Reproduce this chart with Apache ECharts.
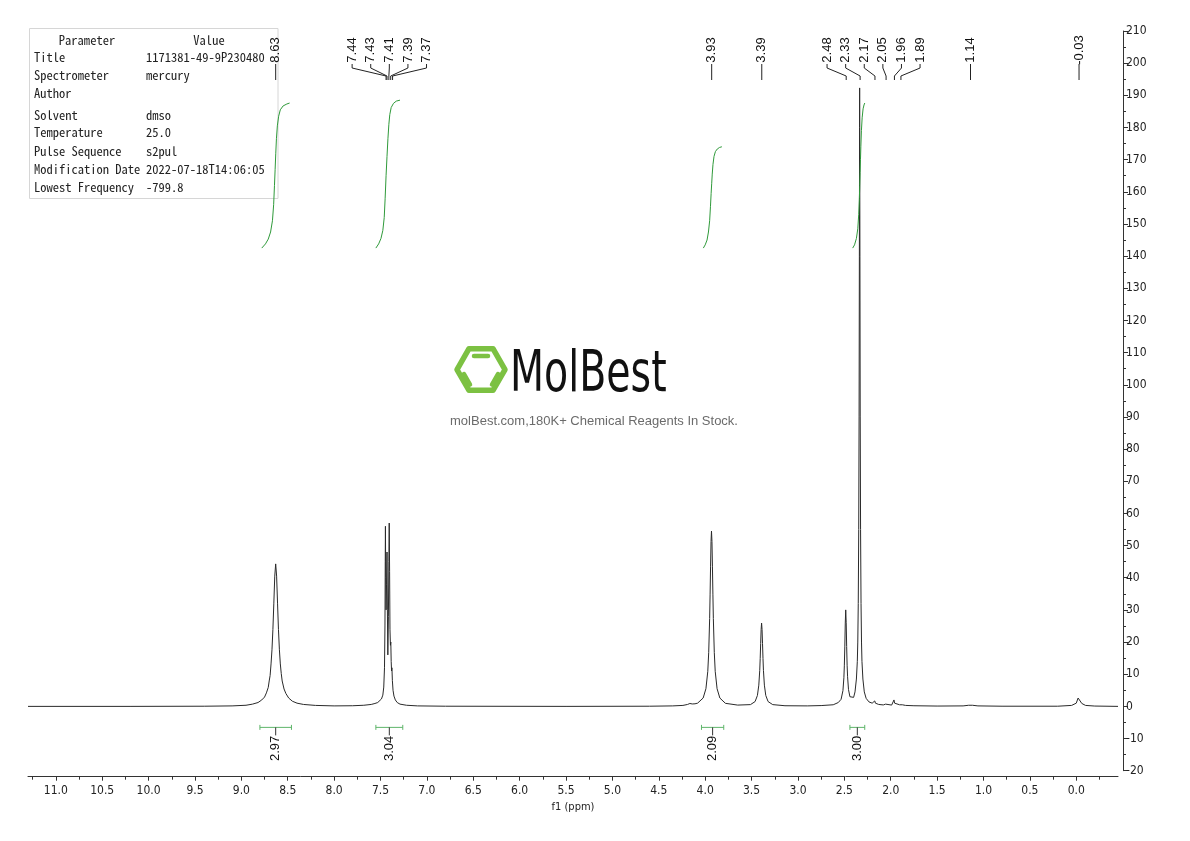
<!DOCTYPE html>
<html><head><meta charset="utf-8">
<script src="https://cdn.jsdelivr.net/npm/echarts@6/dist/echarts.min.js"></script>
<style>html,body{margin:0;padding:0;background:#fff}#c{width:1190px;height:841px}</style>
</head><body><div id="c"></div>
<script>
// ---------- data ----------
const xMajorTicks = [11.0,10.5,10.0,9.5,9.0,8.5,8.0,7.5,7.0,6.5,6.0,5.5,5.0,4.5,4.0,3.5,3.0,2.5,2.0,1.5,1.0,0.5,0.0];
const xMinorTicks = [11.25,10.75,10.25,9.75,9.25,8.75,8.25,7.75,7.25,6.75,6.25,5.75,5.25,4.75,4.25,3.75,3.25,2.75,2.25,1.75,1.25,0.75,0.25,-0.25];

const spectrum = [
[11.30,0.0],[10.2,0.0],[9.40,0.05],[9.10,0.15],[8.95,0.35],[8.88,0.7],[8.82,1.2],[8.78,2.0],[8.75,2.9],[8.73,4.2],[8.71,5.9],[8.70,7.9],[8.69,9.6],[8.68,13.2],[8.67,17.6],[8.66,23.9],[8.65,32.1],[8.64,40.5],[8.63,44.3],[8.62,40.5],[8.61,32.1],[8.60,23.9],[8.59,17.6],[8.58,13.2],[8.57,10.2],[8.56,7.9],[8.54,5.4],[8.52,4.0],[8.49,2.6],[8.45,1.6],[8.40,1.0],[8.33,0.6],[8.20,0.3],[8.00,0.15],
[7.80,0.2],[7.68,0.35],[7.60,0.6],[7.56,0.9],[7.53,1.2],[7.51,1.6],[7.49,2.3],[7.475,3.5],[7.465,6],[7.457,12],[7.452,25],[7.449,45],[7.447,56],[7.444,40],[7.440,30],[7.435,38],[7.430,48],[7.426,30],[7.421,16],[7.415,28],[7.410,45],[7.406,57],[7.402,42],[7.398,24],[7.393,19],[7.389,20],[7.385,14],[7.381,11],[7.377,12],[7.372,8],[7.365,5],[7.355,3.2],[7.34,2.0],[7.32,1.2],[7.29,0.7],[7.22,0.35],[7.10,0.15],[6.80,0.05],[5.50,0.0],
[4.60,0.05],[4.35,0.15],[4.24,0.3],[4.19,0.6],[4.165,0.9],[4.14,0.75],[4.11,0.8],[4.082,1.0],[4.022,2.6],[3.992,5.5],[3.972,10.9],[3.962,16.8],[3.952,27.3],[3.947,34.9],[3.942,43.6],[3.937,51.3],[3.932,54.5],[3.927,51.3],[3.922,43.6],[3.917,34.9],[3.912,27.3],[3.902,16.8],[3.892,10.9],[3.872,5.5],[3.842,2.6],[3.782,0.95],[3.65,0.4],
[3.512,0.55],[3.462,1.5],[3.437,3.4],[3.422,6.6],[3.412,11.2],[3.407,14.9],[3.402,19.5],[3.397,23.9],[3.392,25.9],[3.387,23.9],[3.382,19.5],[3.377,14.9],[3.372,11.2],[3.362,6.6],[3.347,3.4],[3.322,1.5],[3.272,0.55],[3.14,0.2],[2.90,0.15],[2.75,0.25],
[2.62,0.5],[2.565,1.2],[2.535,2.2],[2.515,4.9],[2.505,8.9],[2.50,12.6],[2.495,18.5],[2.49,25.9],[2.485,30.0],[2.48,26.0],[2.475,18.6],[2.47,12.8],[2.465,9.2],[2.455,5.2],[2.44,3.0],[2.42,2.5],[2.40,2.8],
[2.385,4.5],[2.37,8.5],[2.36,14],[2.355,20],[2.35,32],[2.345,55],[2.341,90],[2.338,140],[2.3355,180],[2.335,192.3],[2.3345,180],[2.332,140],[2.329,90],[2.325,55],[2.32,32],[2.315,20],[2.31,14],[2.30,8.5],[2.285,4.5],[2.265,2.5],[2.235,1.4],[2.20,1.0],[2.18,1.0],[2.172,1.7],[2.165,1.0],[2.13,0.6],[2.08,0.45],[2.055,0.7],[2.045,0.45],[1.99,0.4],[1.972,0.7],[1.965,2.0],[1.958,1.0],[1.94,0.5],[1.905,0.5],[1.895,1.0],[1.885,0.9],[1.875,0.5],[1.84,0.3],[1.75,0.2],[1.50,0.1],
[1.22,0.15],[1.16,0.35],[1.14,0.6],[1.12,0.35],[1.06,0.15],[0.80,0.05],[0.20,0.05],[0.05,0.3],[0.0,1.0],[-0.02,2.6],[-0.03,2.9],[-0.04,2.4],[-0.06,0.9],[-0.10,0.3],[-0.20,0.1],[-0.45,0.0]
];

const integralCurve1 = [[8.78,142.5],[8.74,143.8],[8.71,145.3],[8.685,147.5],[8.665,151],[8.652,156],[8.643,162],[8.636,167],[8.629,172],[8.622,176.5],[8.612,180.5],[8.598,183.5],[8.58,185.5],[8.55,186.7],[8.51,187.3],[8.48,187.6]];
const integralCurve2 = [[7.55,142.5],[7.52,143.8],[7.495,145.5],[7.475,148],[7.46,152],[7.45,158],[7.44,165],[7.43,171],[7.42,176.5],[7.41,181],[7.40,184],[7.385,186.2],[7.36,187.5],[7.33,188.2],[7.29,188.5]];
const integralCurve3 = [[4.02,142.5],[4.00,143.5],[3.98,145],[3.965,147.5],[3.952,151],[3.943,155.5],[3.936,159.5],[3.93,162.5],[3.924,165.5],[3.916,168.5],[3.905,171],[3.89,172.5],[3.87,173.3],[3.845,173.8],[3.82,174]];
const integralCurve4 = [[2.41,142.5],[2.39,143.5],[2.37,145.5],[2.355,148.5],[2.345,153],[2.338,158],[2.334,162],[2.33,166],[2.326,170],[2.322,174],[2.316,179],[2.308,183],[2.298,185.8],[2.288,187],[2.28,187.6]];

const integralRanges = [[8.80,8.46],[7.55,7.26],[4.04,3.80],[2.44,2.28]];
const integralValues = ['2.97','3.04','2.09','3.00'];

const peakGroups = [[8.63],[7.44,7.43,7.41,7.39,7.37],[3.93],[3.39],[2.48,2.33,2.17,2.05,1.96,1.89],[1.14],[-0.03]];

const tableParams = ['Title','Spectrometer','Author','Solvent','Temperature','Pulse Sequence','Modification Date','Lowest Frequency'];
const tableValues = ['1171381-49-9P230480','mercury','','dmso','25.0','s2pul','2022-07-18T14:06:05','-799.8'];

// ---------- chart ----------
const narrow = "'Liberation Sans Narrow','DejaVu Sans Condensed','Arial Narrow',sans-serif";
const tableFont = "12.5px 'Noto Sans Mono CJK SC','Liberation Mono',monospace";
const green = '#2f9a3a';
const bracketGreen = '#5fb56a';

const rowY = [57.7,75.7,93.3,115,132.7,151,169,187.3];
const tableEls = [
  {type:'rect', shape:{x:29.5,y:28.5,width:248.5,height:170}, style:{fill:'#fff',stroke:'#d6d6d6',lineWidth:1}},
  {type:'text', x:87, y:40, style:{text:'Parameter', font:tableFont, fill:'#222', align:'center', textAlign:'center', verticalAlign:'middle', textVerticalAlign:'middle'}},
  {type:'text', x:209, y:40, style:{text:'Value', font:tableFont, fill:'#222', align:'center', textAlign:'center', verticalAlign:'middle', textVerticalAlign:'middle'}}
];
tableParams.forEach((p,i)=>{
  tableEls.push({type:'text', x:34, y:rowY[i], style:{text:p, font:tableFont, fill:'#222', verticalAlign:'middle', textVerticalAlign:'middle'}});
  tableEls.push({type:'text', x:146, y:rowY[i], style:{text:tableValues[i], font:tableFont, fill:'#222', verticalAlign:'middle', textVerticalAlign:'middle'}});
});

const logoGreen = '#7cc142';
const hexR = 24, hcx = 481, hcy = 369.5;
const hexPts = [0,1,2,3,4,5].map(k=>[hcx + hexR*Math.cos(Math.PI*k/3), hcy + hexR*Math.sin(Math.PI*k/3)]);
const watermark = [
  {type:'polygon', shape:{points:hexPts}, style:{fill:'none', stroke:logoGreen, lineWidth:5.5, lineJoin:'round'}},
  {type:'line', shape:{x1:474,y1:356,x2:488,y2:356}, style:{stroke:logoGreen,lineWidth:4.5,lineCap:'round'}},
  {type:'line', shape:{x1:464,y1:374,x2:470,y2:384.5}, style:{stroke:logoGreen,lineWidth:4.5,lineCap:'round'}},
  {type:'line', shape:{x1:498,y1:374,x2:492,y2:384.5}, style:{stroke:logoGreen,lineWidth:4.5,lineCap:'round'}},
  {type:'text', x:510, y:405, scaleX:0.77, style:{text:'MolBest', font:"57px 'Liberation Sans Narrow','DejaVu Sans Condensed',sans-serif", fill:'#111', align:'left', textAlign:'left', verticalAlign:'bottom', textVerticalAlign:'bottom'}},
  {type:'text', x:594, y:421, style:{text:'molBest.com,180K+ Chemical Reagents In Stock.', font:"13px 'Liberation Sans',Arial,sans-serif", fill:'#6b6b6b', align:'center', textAlign:'center', verticalAlign:'middle', textVerticalAlign:'middle'}}
];

const labelFont = "13px 'Liberation Sans',Arial,sans-serif";

function integralSeries(d){
  return {type:'line', data:d, showSymbol:false, symbol:'none', lineStyle:{color:green,width:1}, z:4, silent:true};
}

const option = {
  animation:false,
  backgroundColor:'#fff',
  grid:{left:28,right:72,top:31,bottom:70.3},
  xAxis:[{
    type:'value', min:-0.45, max:11.3, inverse:true, position:'bottom', offset:6,
    name:'f1 (ppm)', nameLocation:'middle', nameGap:23,
    nameTextStyle:{fontFamily:narrow,fontSize:11,color:'#222'},
    axisLine:{show:true,onZero:false,lineStyle:{color:'#333',width:1}},
    axisTick:{show:true,length:4,customValues:xMajorTicks,lineStyle:{color:'#333'}},
    axisLabel:{customValues:xMajorTicks, formatter:v=>v.toFixed(1), fontFamily:narrow, fontSize:12, color:'#222', margin:8},
    splitLine:{show:false}
  },{
    type:'value', min:-0.45, max:11.3, inverse:true, position:'bottom', offset:6,
    axisLine:{show:false,onZero:false},
    axisTick:{show:true,length:3,customValues:xMinorTicks,lineStyle:{color:'#333'}},
    axisLabel:{show:false}, splitLine:{show:false}
  }],
  yAxis:{
    type:'value', min:-20, max:210, interval:10, position:'right', offset:5,
    axisLine:{show:true,onZero:false,lineStyle:{color:'#333'}},
    axisTick:{show:true,length:5,lineStyle:{color:'#333'}},
    minorTick:{show:true,splitNumber:2,length:3,lineStyle:{color:'#333'}},
    axisLabel:{fontFamily:narrow,fontSize:12,color:'#222',margin:3},
    splitLine:{show:false}, minorSplitLine:{show:false}
  },
  graphic:{elements:[{type:'group', z:0, children:watermark},{type:'group', z:0, children:tableEls}]},
  series:[
    {type:'line', data:spectrum, showSymbol:false, symbol:'none', lineStyle:{color:'#2a2a2a',width:1}, z:3, silent:true},
    integralSeries(integralCurve1),
    integralSeries(integralCurve2),
    integralSeries(integralCurve3),
    integralSeries(integralCurve4),
    {
      type:'custom', z:6, silent:true,
      data: integralRanges.map(r=>[(r[0]+r[1])/2, 0]),
      renderItem:(params, api)=>{
        const i = params.dataIndex, r = integralRanges[i];
        const x1 = api.coord([r[0],0])[0], x2 = api.coord([r[1],0])[0];
        const y0 = api.coord([0,0])[1];
        const yb = y0 + 21, xm = (x1+x2)/2;
        const bs = {stroke:bracketGreen, lineWidth:1};
        return {type:'group', children:[
          {type:'line', shape:{x1:x1,y1:yb,x2:x2,y2:yb}, style:bs},
          {type:'line', shape:{x1:x1,y1:yb-2.5,x2:x1,y2:yb+2.5}, style:bs},
          {type:'line', shape:{x1:x2,y1:yb-2.5,x2:x2,y2:yb+2.5}, style:bs},
          {type:'line', shape:{x1:xm,y1:yb,x2:xm,y2:yb+8}, style:{stroke:'#333',lineWidth:1}},
          {type:'text', x:xm, y:yb+21, rotation:Math.PI/2, style:{text:integralValues[i], font:labelFont, fill:'#111', align:'center', textAlign:'center', verticalAlign:'middle', textVerticalAlign:'middle'}}
        ]};
      }
    },
    {
      type:'custom', z:6, silent:true,
      data: peakGroups.map(g=>[g[0], 200]),
      renderItem:(params, api)=>{
        const g = peakGroups[params.dataIndex];
        const top = api.coord([0,210])[1];
        const xs = g.map(p=>api.coord([p,0])[0]);
        const mid = (Math.min.apply(null,xs)+Math.max.apply(null,xs))/2;
        const spacing = 18.6;
        const ch = [];
        g.forEach((p,i)=>{
          const lx = g.length===1 ? xs[i] : mid + (i-(g.length-1)/2)*spacing;
          ch.push({type:'text', x:lx, y:top+19, rotation:Math.PI/2, style:{text:p.toFixed(2), font:labelFont, fill:'#111', align:'center', textAlign:'center', verticalAlign:'middle', textVerticalAlign:'middle'}});
          if (g.length===1) {
            ch.push({type:'line', shape:{x1:lx,y1:top+33,x2:lx,y2:top+49}, style:{stroke:'#222',lineWidth:1}});
          } else {
            ch.push({type:'polyline', shape:{points:[[lx,top+33],[lx,top+37],[xs[i],top+45],[xs[i],top+49]]}, style:{stroke:'#222',lineWidth:1,fill:'none'}});
          }
        });
        return {type:'group', children:ch};
      }
    }
  ]
};
const chart = echarts.init(document.getElementById('c'));
chart.setOption(option);
</script>
</body></html>
